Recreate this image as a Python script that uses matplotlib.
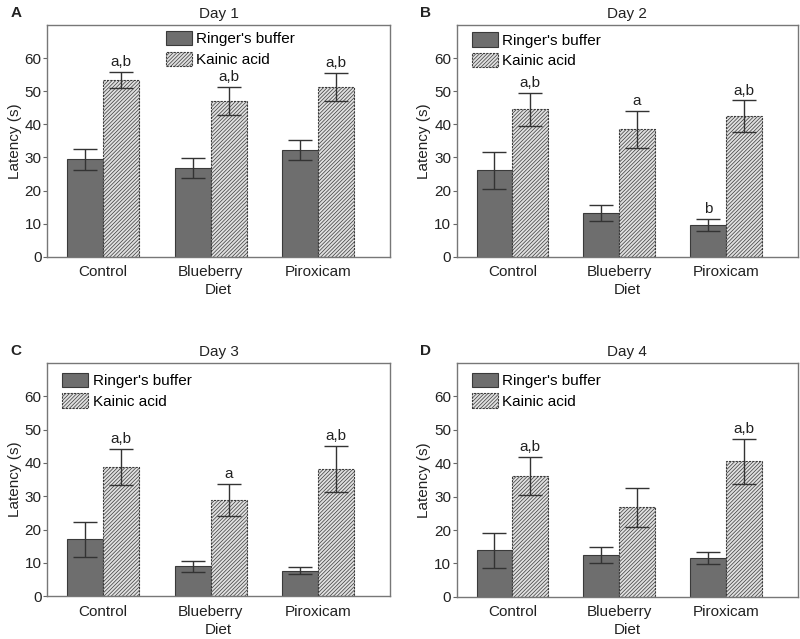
import numpy as np
import matplotlib.pyplot as plt

plt.rcParams['font.family'] = ['Liberation Sans', 'DejaVu Sans']
plt.rcParams['hatch.linewidth'] = 0.5
plt.rcParams['hatch.color'] = '#707070'

groups = ['Control', 'Blueberry', 'Piroxicam']
days = ['Day 1', 'Day 2', 'Day 3', 'Day 4']
letters = ['A', 'B', 'C', 'D']

ringer = [[29.4, 26.8, 32.2],
          [26.2, 13.3, 9.6],
          [17.1, 9.0, 7.7],
          [13.9, 12.5, 11.6]]
ringer_err = [[3.2, 3.0, 3.1],
              [5.6, 2.4, 1.8],
              [5.2, 1.6, 1.1],
              [5.3, 2.4, 1.8]]
kainic = [[53.4, 47.1, 51.3],
          [44.5, 38.5, 42.4],
          [38.8, 28.9, 38.2],
          [36.2, 26.8, 40.6]]
kainic_err = [[2.4, 4.2, 4.3],
              [5.0, 5.5, 4.8],
              [5.5, 4.9, 6.9],
              [5.7, 5.9, 6.7]]
ringer_lab = [['', '', ''], ['', '', 'b'], ['', '', ''], ['', '', '']]
kainic_lab = [['a,b', 'a,b', 'a,b'], ['a,b', 'a', 'a,b'],
              ['a,b', 'a', 'a,b'], ['a,b', '', 'a,b']]

#%%
fig = plt.figure(figsize=(8, 6.39), dpi=100)
pos = [[0.059, 0.598, 0.429, 0.363],
       [0.571, 0.598, 0.426, 0.363],
       [0.059, 0.067, 0.429, 0.365],
       [0.571, 0.066, 0.426, 0.366]]
leg_anchor = [(0.345, 0.973), (0.044, 0.968), (0.044, 0.958), (0.044, 0.958)]
x = np.arange(3)
w = 0.335
for k in range(4):
    ax = fig.add_axes(pos[k])
    ax.bar(x - w/2, ringer[k], w, color='#6e6e6e', edgecolor='#3a3a3a',
           linewidth=0.8, label="Ringer's buffer")
    ax.bar(x + w/2, kainic[k], w, color='#e0e0e0', edgecolor='#3a3a3a',
           hatch='/////////', linewidth=0.8, linestyle=(0, (2, 1)), label='Kainic acid')
    ax.errorbar(x - w/2, ringer[k], yerr=ringer_err[k], fmt='none', ecolor='#333333',
                elinewidth=1, capsize=8.5, capthick=1)
    ax.errorbar(x + w/2, kainic[k], yerr=kainic_err[k], fmt='none', ecolor='#333333',
                elinewidth=1, capsize=8.5, capthick=1)
    for i in range(3):
        if ringer_lab[k][i]:
            ax.text(x[i] - w/2, ringer[k][i] + ringer_err[k][i] + 0.8, ringer_lab[k][i],
                    ha='center', va='bottom', fontsize=11, color='#222222')
        if kainic_lab[k][i]:
            ax.text(x[i] + w/2, kainic[k][i] + kainic_err[k][i] + 0.8, kainic_lab[k][i],
                    ha='center', va='bottom', fontsize=11, color='#222222')
    ax.set_xlim(-0.52, 2.67)
    ax.set_ylim(0, 70)
    ax.set_yticks(range(0, 70, 10))
    ax.set_xticks(x)
    ax.set_xticklabels(groups, fontsize=11, color='#222222')
    ax.tick_params(axis='x', length=0, pad=6)
    ax.tick_params(axis='y', length=3, labelsize=11, labelcolor='#222222', color='#666666', pad=1)
    for s in ax.spines.values():
        s.set_color('#777777')
        s.set_linewidth(1)
    ax.set_ylabel('Latency (s)', fontsize=11, color='#222222', labelpad=2)
    ax.set_xlabel('Diet', fontsize=11, color='#222222', labelpad=3)
    ax.set_title(days[k], fontsize=11, color='#222222', pad=5)
    ax.text(-0.092, 1.05, letters[k], transform=ax.transAxes, fontsize=11,
            fontweight='bold', color='#222222', ha='center', va='center')
    ax.legend(loc='upper left', bbox_to_anchor=leg_anchor[k], frameon=False, fontsize=11,
              handlelength=1.7, handleheight=1.05, labelspacing=0.35, handletextpad=0.3,
              borderpad=0, borderaxespad=0)

plt.savefig('out.png')
